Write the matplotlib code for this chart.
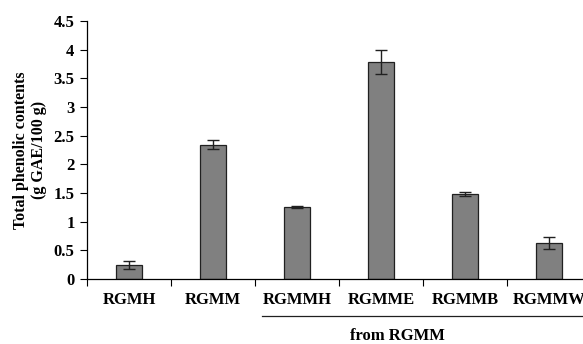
import matplotlib
matplotlib.use("Agg")
import matplotlib.pyplot as plt
import numpy as np

categories = ["RGMH", "RGMM", "RGMMH", "RGMME", "RGMMB", "RGMMW"]
values = [0.25, 2.34, 1.25, 3.79, 1.48, 0.63]
errors = [0.07, 0.08, 0.02, 0.21, 0.04, 0.10]
yticks = [0, 0.5, 1, 1.5, 2, 2.5, 3, 3.5, 4, 4.5]
ytick_labels = ["0", "0.5", "1", "1.5", "2", "2.5", "3", "3.5", "4", "4.5"]

plt.rcParams['font.family'] = ['Liberation Serif', 'DejaVu Serif']
plt.rcParams['font.weight'] = 'bold'

W, H = 583, 344
fig = plt.figure(figsize=(W/100, H/100), dpi=100)
left_px, right_px, top_px, bot_px = 87, 591, 21, 279
ax = fig.add_axes([left_px/W, 1 - bot_px/H, (right_px-left_px)/W, (bot_px-top_px)/H])
ax.set_clip_on(False)

x = np.arange(len(categories))
ax.bar(x, values, width=0.32, color="#808080", edgecolor="#202020", linewidth=0.9, zorder=2)
ax.errorbar(x, values, yerr=errors, fmt='none', ecolor="#202020", elinewidth=1.0,
            capsize=4, capthick=1.0, zorder=3)

ax.set_xlim(-0.5, len(categories) - 0.5)
ax.set_ylim(0, 4.5)
ax.set_yticks(yticks)
ax.set_yticklabels(ytick_labels, fontsize=12, fontweight='bold')
ax.set_xticks(np.arange(len(categories)) - 0.5)
ax.set_xticklabels([])
ax.set_xticks(x, minor=True)
ax.set_xticklabels(categories, minor=True, fontsize=12, fontweight='bold')
ax.tick_params(axis='x', which='minor', length=0, pad=9)
ax.tick_params(axis='x', which='major', length=5, width=0.8, direction='out')
ax.tick_params(axis='y', length=5, width=0.8, direction='out', pad=4)

for s in ['top', 'right']:
    ax.spines[s].set_visible(False)
for s in ['left', 'bottom']:
    ax.spines[s].set_linewidth(0.9)

fig.text(30/W, 1 - 150/H, "Total phenolic contents\n(g GAE/100 g)", rotation=90,
         ha='center', va='center', fontsize=11.5, fontweight='bold',
         linespacing=1.2, multialignment='center')

# underline and group label
fig.add_artist(plt.Line2D([262/W, 583/W], [1 - 316/H, 1 - 316/H], color="#202020", linewidth=0.9))
fig.text(397/W, 1 - 336/H, "from RGMM", ha='center', va='center', fontsize=12, fontweight='bold')

fig.savefig("out.png", dpi=100)
